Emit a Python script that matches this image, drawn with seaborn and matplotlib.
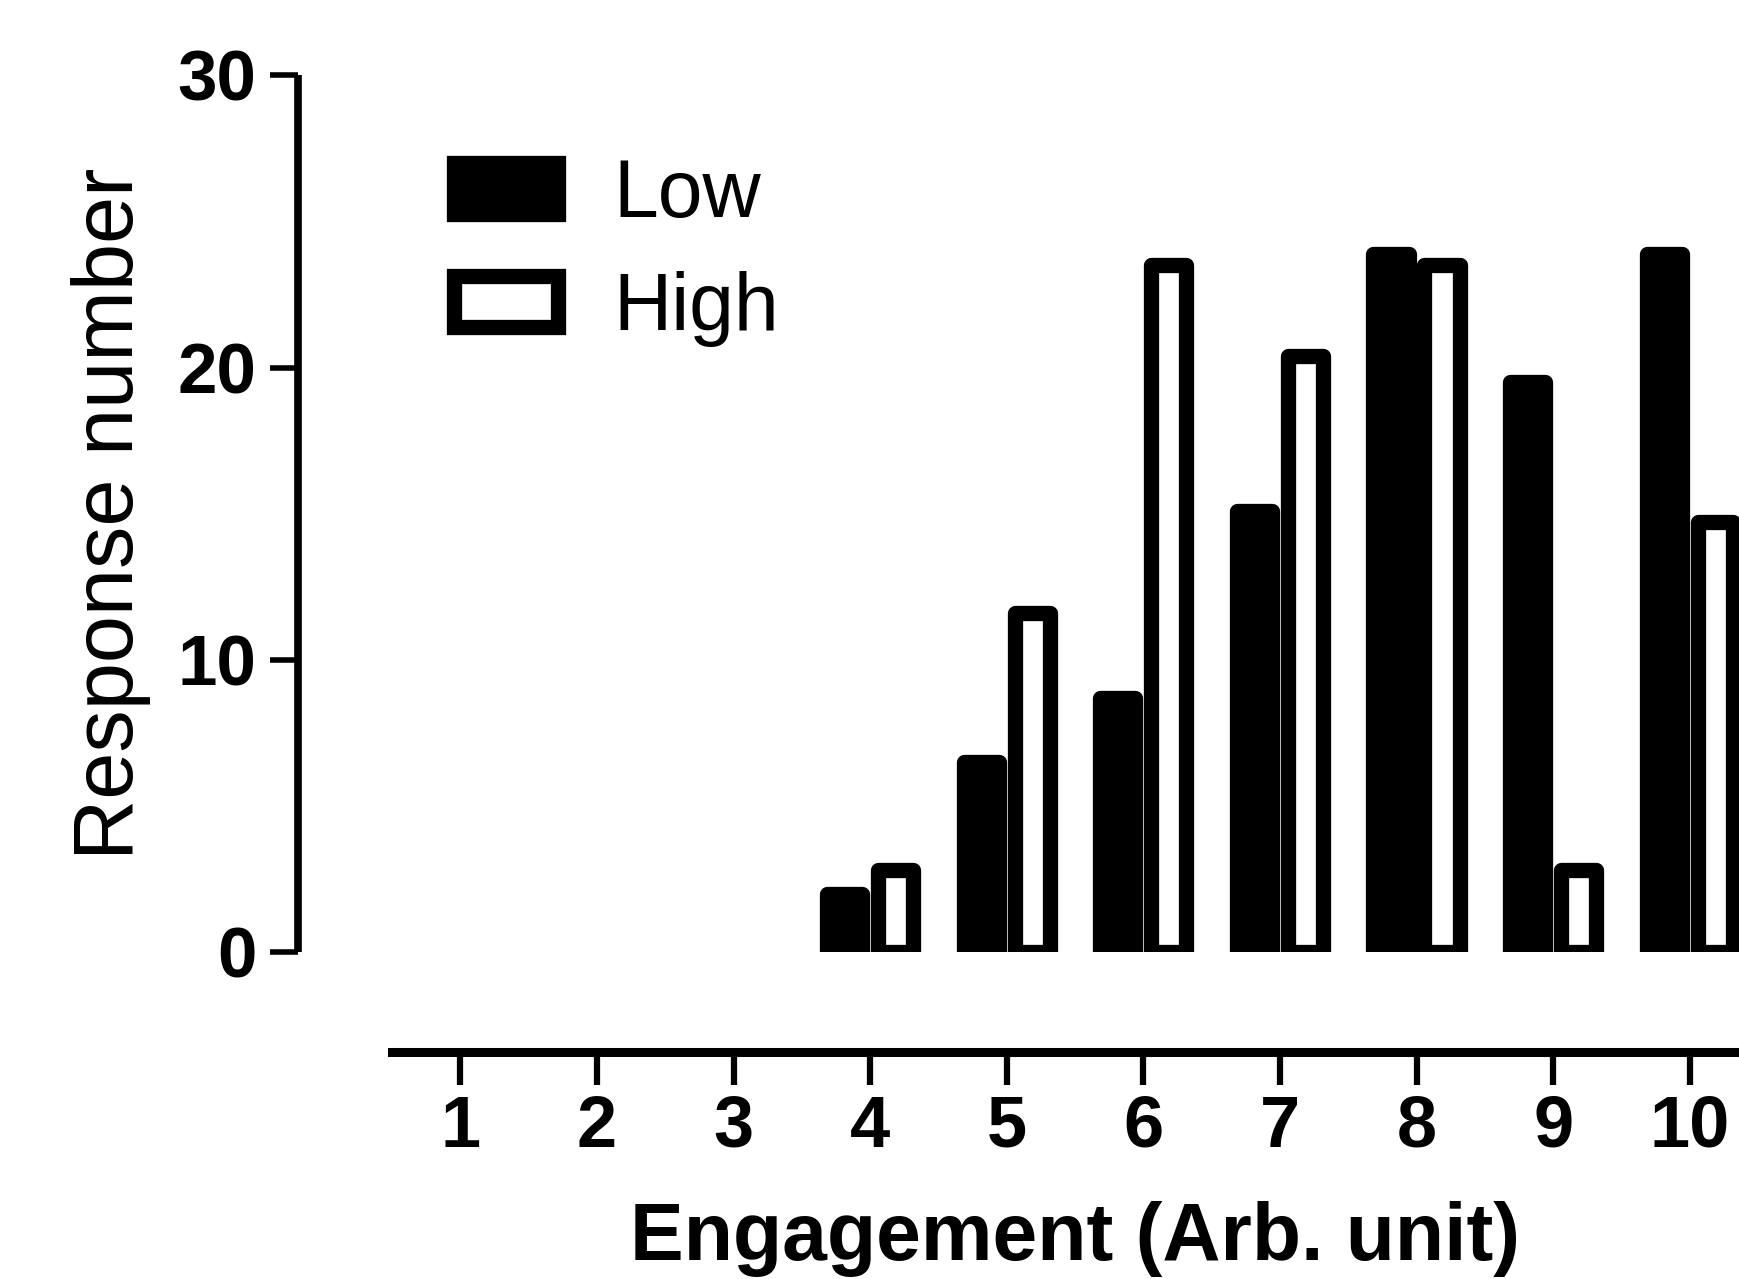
import numpy as np
import pandas as pd
import matplotlib
matplotlib.use("Agg")
import matplotlib.pyplot as plt
from matplotlib.patches import Patch
import seaborn as sns

# ---- data ----
categories = ['1', '2', '3', '4', '5', '6', '7', '8', '9', '10']
low_values = [None, None, None, 2.0, 6.5, 8.7, 15.1, 23.9, 19.5, 23.9]
high_values = [None, None, None, 2.8, 11.6, 23.5, 20.4, 23.5, 2.8, 14.7]
series_names = ['Low', 'High']
y_ticks = [0, 10, 20, 30]

rows = []
for c, lo, hi in zip(categories, low_values, high_values):
    if lo is not None:
        rows.append({'Engagement': c, 'group': 'Low', 'value': lo})
    if hi is not None:
        rows.append({'Engagement': c, 'group': 'High', 'value': hi})
df = pd.DataFrame(rows)

sns.set_style('ticks')
plt.rcParams['font.family'] = ['Liberation Sans', 'DejaVu Sans']
plt.rcParams['text.color'] = 'black'
plt.rcParams['axes.labelcolor'] = 'black'
plt.rcParams['xtick.color'] = 'black'
plt.rcParams['ytick.color'] = 'black'
plt.rcParams['axes.edgecolor'] = 'black'

fig = plt.figure(figsize=(17.4, 12.79), dpi=100)
ax = fig.add_axes([392 / 1740, 0.2557, 1366 / 1740, 0.6853])

palette = {'Low': 'black', 'High': 'white'}
lw = 11
sns.barplot(data=df, x='Engagement', y='value', hue='group', order=categories,
            hue_order=series_names, palette=palette, edgecolor='black',
            linewidth=lw, width=0.746, gap=0.31, ax=ax, legend=False,
            errorbar=None, saturation=1)
for p in ax.patches:
    p.set_joinstyle('round')

ax.set_xlim(-0.5, 9.5)
ax.set_ylim(0, 30)
ax.set_yticks(y_ticks)
ax.set_yticklabels([str(t) for t in y_ticks])

for s in ['top', 'right']:
    ax.spines[s].set_visible(False)
ax.spines['left'].set_position(('outward', 68))
ax.spines['bottom'].set_position(('outward', 72))
ax.spines['left'].set_linewidth(5.5)
ax.spines['bottom'].set_linewidth(6.5)
ax.spines['left'].set_capstyle('butt')

ax.tick_params(axis='y', direction='out', length=20, width=4, pad=9.5,
               labelsize=51, colors='black')
ax.tick_params(axis='x', direction='out', length=24, width=4.5, pad=6,
               labelsize=52, colors='black')
for lab in ax.get_xticklabels() + ax.get_yticklabels():
    lab.set_fontweight('bold')

ax.set_xlabel('Engagement (Arb. unit)', fontsize=58, fontweight='bold',
              labelpad=28, color='black')
ax.set_ylabel('Response number', fontsize=61, labelpad=19.5, color='black')

handles = [Patch(facecolor=palette[n], edgecolor='black', linewidth=lw,
                 joinstyle='round') for n in series_names]
leg = ax.legend(handles, series_names, loc='upper left',
                bbox_to_anchor=(454.5 / 1740, 1 - 158 / 1279),
                bbox_transform=fig.transFigure, frameon=False, fontsize=58,
                borderpad=0, borderaxespad=0, handlelength=1.29,
                handleheight=0.6, handletextpad=0.68, labelspacing=0.46)
for t in leg.get_texts():
    t.set_color('black')

fig.savefig('out.png', dpi=100)
